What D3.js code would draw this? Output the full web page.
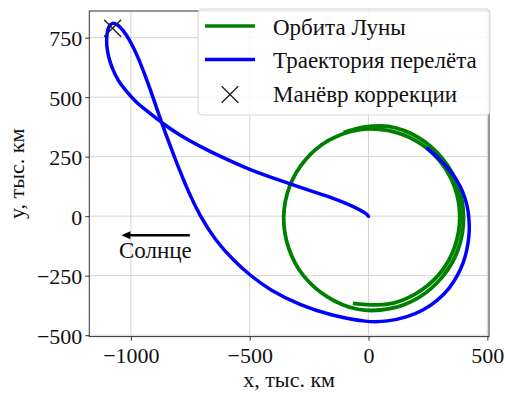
<!DOCTYPE html>
<html>
<head>
<meta charset="utf-8">
<script src="https://cdn.jsdelivr.net/npm/d3@7"></script>
<style>
  html, body { margin: 0; padding: 0; background: #fff; }
  svg { display: block; }
  text { font-family: "Liberation Serif", "Times New Roman", serif; fill: #111; }
</style>
</head>
<body>
<svg id="chart" width="505" height="393"></svg>
<script>
// Axis ticks (thousand km)
const xTicks = [-1000, -500, 0, 500];
const yTicks = [-500, -250, 0, 250, 500, 750];

// Moon orbit trace, thousand km (a bit more than one and a half revolutions)
const moonOrbit = [
  [-66, -366], [80, -370], [200, -325], [298, -243], [362, -131],
  [384, -4], [362, 123], [298, 234], [200, 316], [80, 360], [-48, 362],
  [-168, 318], [-266, 236], [-332, 125], [-357, -4], [-336, -134], [-273, -251],
  [-173, -339], [-50, -390], [84, -390], [209, -343], [310, -256], [377, -140],
  [400, -7], [377, 126], [310, 243], [209, 331], [84, 377], [-20, 374], [-105, 351]
];

// Transfer trajectory from Earth to the Moon, thousand km
const transferPath = [
  [0, 0], [-12, 12], [-36, 27], [-90, 52], [-160, 80], [-230, 102], [-300, 125],
  [-400, 160], [-500, 195], [-600, 240], [-700, 288], [-800, 343], [-871, 393],
  [-930, 440], [-980, 480], [-1020, 525], [-1055, 570], [-1080, 625], [-1095, 670],
  [-1103, 720], [-1102, 765], [-1093, 800], [-1078, 813], [-1060, 808], [-1035, 785],
  [-1005, 740], [-975, 680], [-943, 600], [-907, 500], [-871, 393], [-836, 300],
  [-798, 200], [-757, 100], [-709, 0], [-646, -100], [-562, -193], [-499, -248],
  [-415, -311], [-288, -374], [-162, -416], [0, -447], [80, -442], [160, -425],
  [230, -396], [290, -355], [340, -305], [375, -250], [400, -195], [415, -140],
  [423, -85], [425, -40], [420, 25], [407, 75], [388, 125], [350, 185],
  [302, 238], [248, 284]
];

// Correction manoeuvre point
const correctionBurn = [[-1077, 790]];

// Direction-to-Sun arrow (tail, head) and its caption position
const sunArrow = [[-752, -80], [-1040, -80]];
const sunLabel = { text: "Солнце", at: [-897, -176] };

const legendLabels = ["Орбита Луны", "Траектория перелёта", "Манёвр коррекции"];
const xLabel = "x, тыс. км";
const yLabel = "y, тыс. км";

const COLORS = { moon: "#008000", path: "#0000ff", marker: "#222" };

const svg = d3.select("#chart");
const W = 505, H = 393;
const plot = { left: 89.3, right: 489, top: 11, bottom: 336.6 };

const x = d3.scaleLinear().domain([-1175, 507]).range([plot.left, plot.right]);
const y = d3.scaleLinear().domain([-506, 862]).range([plot.bottom, plot.top]);

svg.append("rect").attr("width", W).attr("height", H).attr("fill", "#fff");

svg.append("defs").append("clipPath").attr("id", "plotClip")
  .append("rect")
  .attr("x", plot.left).attr("y", plot.top)
  .attr("width", plot.right - plot.left).attr("height", plot.bottom - plot.top);

// Grid
const grid = svg.append("g");
grid.selectAll("line.gx").data(xTicks).join("line")
  .attr("x1", d => x(d)).attr("x2", d => x(d))
  .attr("y1", plot.top).attr("y2", plot.bottom)
  .attr("stroke", "#d4d4d4").attr("stroke-width", 1);
grid.selectAll("line.gy").data(yTicks).join("line")
  .attr("y1", d => y(d)).attr("y2", d => y(d))
  .attr("x1", plot.left).attr("x2", plot.right)
  .attr("stroke", "#d4d4d4").attr("stroke-width", 1);

// Axes
const fmt = d => (d < 0 ? "\u2212" + Math.abs(d) : String(d));
const xAxis = d3.axisBottom(x).tickValues(xTicks).tickFormat(fmt).tickSize(4).tickPadding(4);
const yAxis = d3.axisLeft(y).tickValues(yTicks).tickFormat(fmt).tickSize(4).tickPadding(4);

const gx = svg.append("g").attr("transform", `translate(0,${plot.bottom})`).call(xAxis);
const gy = svg.append("g").attr("transform", `translate(${plot.left},0)`).call(yAxis);
[gx, gy].forEach(g => {
  g.select(".domain").remove();
  g.selectAll(".tick line").attr("stroke", "#333").attr("stroke-width", 1);
  g.selectAll(".tick text")
    .style("font-family", '"Liberation Serif", "Times New Roman", serif')
    .style("font-size", "22px").attr("fill", "#111");
});
gx.selectAll(".tick text").attr("dy", null).attr("y", 26.5);
gy.selectAll(".tick text").attr("dy", null).attr("x", -7).attr("y", 8);

// Frame
svg.append("rect")
  .attr("x", plot.left).attr("y", plot.top)
  .attr("width", plot.right - plot.left).attr("height", plot.bottom - plot.top)
  .attr("fill", "none").attr("stroke", "#333").attr("stroke-width", 1);

// Data layer
const data = svg.append("g").attr("clip-path", "url(#plotClip)");
const orbitLine = d3.line().x(d => x(d[0])).y(d => y(d[1])).curve(d3.curveCatmullRom.alpha(0.5));
const pathLine = d3.line().x(d => x(d[0])).y(d => y(d[1])).curve(d3.curveBasis);

data.append("path").datum(moonOrbit)
  .attr("d", orbitLine).attr("fill", "none")
  .attr("stroke", COLORS.moon).attr("stroke-width", 3.8);

data.append("path").datum(transferPath)
  .attr("d", pathLine).attr("fill", "none")
  .attr("stroke", COLORS.path).attr("stroke-width", 3.5)
  .attr("stroke-linejoin", "round").attr("stroke-linecap", "round");

const xMark = (cx, cy, r) => `M${cx - r},${cy - r}L${cx + r},${cy + r}M${cx - r},${cy + r}L${cx + r},${cy - r}`;
data.selectAll("path.burn").data(correctionBurn).join("path")
  .attr("d", d => xMark(x(d[0]), y(d[1]), 8.5))
  .attr("fill", "none").attr("stroke", COLORS.marker).attr("stroke-width", 1.4);

// Sun direction arrow
const [tail, head] = sunArrow;
const hx = x(head[0]), hy = y(head[1]);
svg.append("line")
  .attr("x1", x(tail[0])).attr("y1", y(tail[1]))
  .attr("x2", hx + 6).attr("y2", hy)
  .attr("stroke", "#000").attr("stroke-width", 2.6);
svg.append("path")
  .attr("d", `M${hx},${hy}L${hx + 9},${hy - 4}L${hx + 9},${hy + 4}Z`)
  .attr("fill", "#000");
svg.append("text")
  .attr("x", x(sunLabel.at[0])).attr("y", y(sunLabel.at[1]))
  .attr("text-anchor", "middle").style("font-size", "23px")
  .text(sunLabel.text);

// Axis titles
svg.append("text")
  .attr("x", (plot.left + plot.right) / 2).attr("y", 387)
  .attr("text-anchor", "middle").style("font-size", "22px")
  .text(xLabel);
svg.append("text")
  .attr("transform", `translate(24,${(plot.top + plot.bottom) / 2}) rotate(-90)`)
  .attr("text-anchor", "middle").style("font-size", "22px")
  .text(yLabel);

// Legend
const lg = svg.append("g");
lg.append("rect")
  .attr("x", 198).attr("y", 9).attr("width", 292).attr("height", 106)
  .attr("rx", 4).attr("fill", "#fff").attr("fill-opacity", 0.85)
  .attr("stroke", "#d6d6d6").attr("stroke-width", 1);
const rowY = [26, 59.5, 93];
lg.append("line").attr("x1", 205).attr("x2", 255).attr("y1", rowY[0]).attr("y2", rowY[0])
  .attr("stroke", COLORS.moon).attr("stroke-width", 3.3);
lg.append("line").attr("x1", 205).attr("x2", 255).attr("y1", rowY[1]).attr("y2", rowY[1])
  .attr("stroke", COLORS.path).attr("stroke-width", 3.5);
lg.append("path").attr("d", xMark(230, rowY[2] + 1.5, 8.3))
  .attr("fill", "none").attr("stroke", COLORS.marker).attr("stroke-width", 1.4);
lg.selectAll("text").data(legendLabels).join("text")
  .attr("x", 273).attr("y", (d, i) => rowY[i] + 8.5)
  .style("font-size", "23px")
  .text(d => d);
</script>
</body>
</html>
